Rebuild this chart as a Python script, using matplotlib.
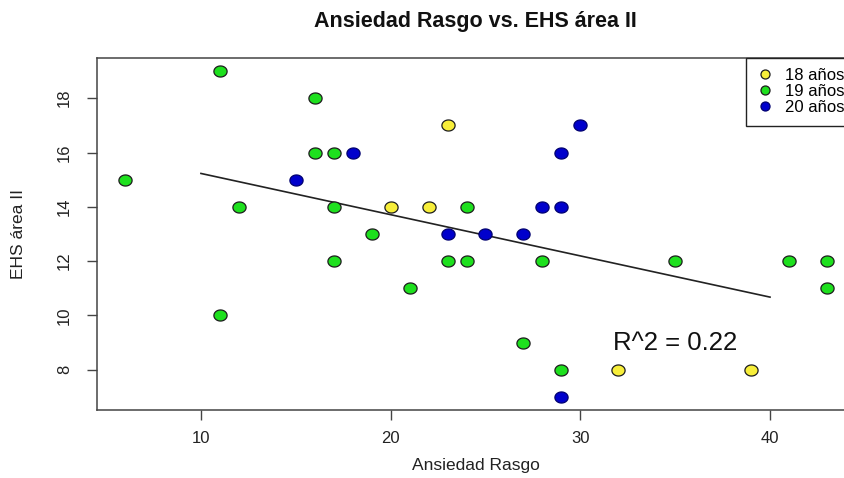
import numpy as np
import matplotlib
matplotlib.use("Agg")
import matplotlib.pyplot as plt
from matplotlib.path import Path

plt.rcParams['font.family'] = ['Liberation Sans', 'DejaVu Sans']

# Ansiedad Rasgo (x) vs EHS área II (y) by age group
x_18 = [20, 22, 23, 32, 39]
y_18 = [14, 14, 17, 8, 8]
x_19 = [6, 11, 11, 12, 16, 16, 17, 17, 17, 19, 21, 23, 24, 24, 27, 28, 29, 35, 41, 43, 43]
y_19 = [15, 19, 10, 14, 18, 16, 16, 14, 12, 13, 11, 12, 14, 12, 9, 12, 8, 12, 12, 12, 11]
x_20 = [15, 18, 23, 25, 27, 28, 29, 29, 30, 29]
y_20 = [15, 16, 13, 13, 13, 14, 14, 16, 17, 7]

groups = ["18 años", "19 años", "20 años"]
colors = ["#F7EE3A", "#1EE01E", "#0000CC"]
edges = ["#1c1c1c", "#1c1c1c", "#000070"]
line_range = [10, 40]
xticks = [10, 20, 30, 40]
yticks = [8, 10, 12, 14, 16, 18]

xs = np.array(x_18 + x_19 + x_20, dtype=float)
ys = np.array(y_18 + y_19 + y_20, dtype=float)
slope, intercept = np.polyfit(xs, ys, 1)
r2 = np.corrcoef(xs, ys)[0, 1] ** 2

# slightly wide ellipse used as point marker
t = np.linspace(0, 2 * np.pi, 60)
ell = Path(np.c_[np.cos(t), 0.84 * np.sin(t)], closed=True)

fig = plt.figure(figsize=(8.45, 4.78), dpi=100)
ax = fig.add_axes([97 / 845, 1 - 410 / 478, 758 / 845, 352 / 478])

for (gx, gy), c, ec in zip([(x_18, y_18), (x_19, y_19), (x_20, y_20)], colors, edges):
    ax.scatter(gx, gy, s=90, marker=ell, facecolor=c, edgecolor=ec,
               linewidth=0.9, zorder=3)

lx = np.array(line_range, dtype=float)
ax.plot(lx, intercept + slope * lx, color="#222222", lw=1.2, zorder=2)

ax.text(35, 9, f"R^2 = {r2:.2f}", fontsize=18.5, ha="center", va="center",
        color="#111111")

ax.set_xlim(4.52, 44.48)
ax.set_ylim(6.52, 19.48)
ax.set_xticks(xticks)
ax.set_yticks(yticks)
ax.tick_params(axis="both", direction="out", length=7, width=1,
               color="#444444", labelsize=12, labelcolor="#222222")
ax.tick_params(axis="x", pad=8)
ax.tick_params(axis="y", pad=11, labelrotation=90)
for lab in ax.get_yticklabels():
    lab.set_va("center")
for sp in ax.spines.values():
    sp.set_color("#444444")
    sp.set_linewidth(1.1)

ax.set_xlabel("Ansiedad Rasgo", fontsize=12.5, color="#222222", va="center")
ax.set_ylabel("EHS área II", fontsize=12.5, color="#222222", va="center")
ax.xaxis.set_label_coords(0.5, -0.159)
ax.yaxis.set_label_coords(-0.104, 0.5)

fig.text(475 / 845, 1 - 22 / 478, "Ansiedad Rasgo vs. EHS área II",
         fontsize=15.5, fontweight="bold", ha="center", va="center",
         color="#111111")

handles = [plt.Line2D([], [], ls="none", marker="o", markersize=6.5,
                      markerfacecolor=c, markeredgecolor=ec,
                      markeredgewidth=0.9) for c, ec in zip(colors, edges)]
leg = ax.legend(handles, groups, loc="upper left",
                bbox_to_anchor=((746 - 97) / 758, 1.0), borderaxespad=0,
                fontsize=12, frameon=True, fancybox=False, framealpha=1,
                edgecolor="#222222", labelspacing=0.06, handlelength=1.0,
                handletextpad=0.7, borderpad=0.62)
leg.get_frame().set_linewidth(1.0)

fig.savefig("out.png", dpi=100)
